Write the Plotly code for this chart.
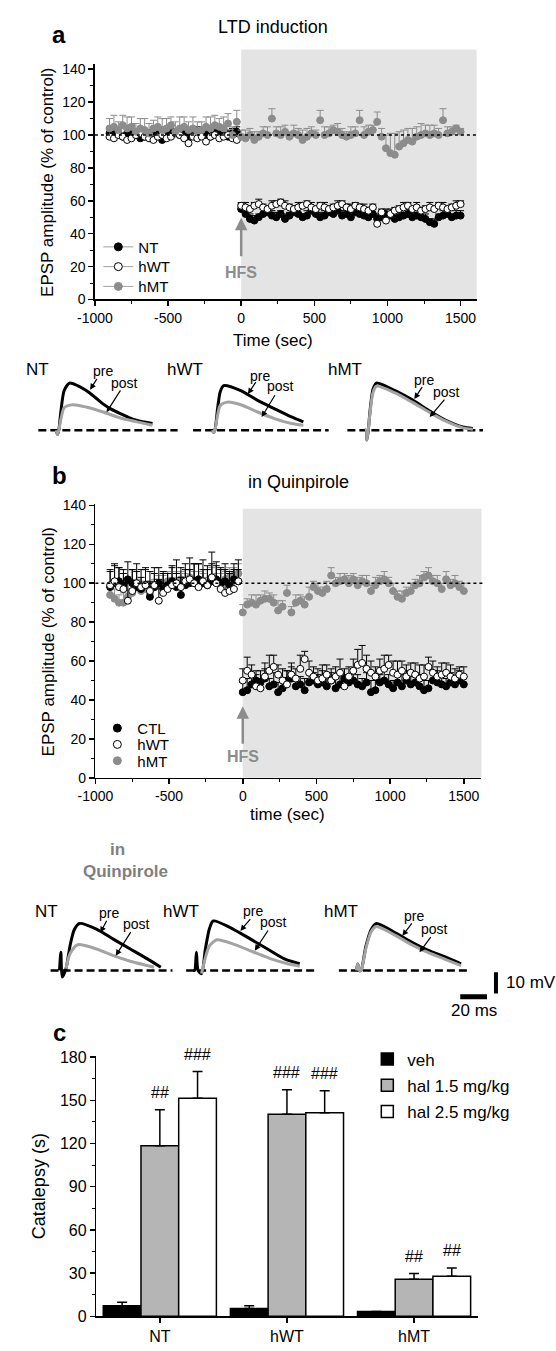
import plotly.graph_objects as go

W, H = 556, 1351
FONT = "Liberation Sans, Arial, Helvetica, sans-serif"
GRAY = "#8c8c8c"
LGRAY = "#a3a3a3"
SHADE = "#e4e4e4"

# ------------------------------------------------------------------ data
t_pre = list(range(-900, 0, 30))      # 30 samples before HFS (s)
t_post = list(range(0, 1501, 30))     # 51 samples after HFS (s)
time_s = t_pre + t_post

# panel a : LTD induction
nt_a = [101, 102, 100, 99, 101, 103, 100, 98, 99, 101, 102, 100, 97, 99, 101, 102, 100, 101, 99, 100,
        102, 101, 100, 99, 101, 102, 100, 99, 101, 102,
        55, 52, 49, 48, 50, 52, 53, 51, 50, 52, 49, 51, 53, 52, 50, 51, 54, 52, 50, 51,
        53, 52, 54, 51, 52, 50, 53, 52, 51, 50, 52, 49, 50, 52, 51, 49, 50, 51, 52, 50,
        51, 50, 49, 47, 46, 50, 51, 52, 50, 51, 51]
nt_a_err = [3, 2, 3, 2, 4, 3, 2, 3, 3, 2, 3, 4, 2, 3, 3, 2, 3, 2, 3, 4, 3, 2, 3, 3, 2, 4, 3, 2, 3, 3,
            3, 2, 3, 3, 2, 3, 2, 3, 3, 2, 3, 2, 3, 3, 2, 3, 3, 2, 3, 3, 2, 3, 4, 3, 2, 3, 3, 2, 3, 2,
            3, 3, 2, 3, 2, 3, 3, 2, 3, 3, 2, 3, 3, 2, 3, 2, 3, 3, 2, 3, 3]
hwt_a = [99, 98, 100, 99, 97, 98, 100, 101, 99, 98, 97, 99, 100, 98, 99, 101, 100, 98, 95, 99,
         98, 99, 96, 99, 100, 98, 99, 100, 98, 97,
         57, 56, 55, 57, 58, 56, 55, 57, 58, 59, 57, 56, 55, 56, 57, 58, 56, 55, 57, 56,
         55, 56, 57, 58, 56, 55, 57, 56, 55, 54, 56, 46, 53, 48, 52, 54, 55, 56, 57, 55,
         56, 54, 55, 56, 55, 57, 56, 55, 56, 57, 58]
hwt_a_err = [2, 3, 2, 2, 3, 2, 3, 2, 2, 3, 2, 3, 2, 2, 3, 2, 3, 2, 2, 3, 2, 2, 3, 2, 3, 2, 2, 3, 2, 2,
             2, 3, 2, 2, 3, 2, 2, 3, 2, 2, 3, 2, 2, 3, 2, 2, 3, 2, 2, 3, 2, 2, 3, 2, 2, 3, 2, 2, 3, 2,
             2, 3, 2, 2, 3, 2, 2, 3, 2, 2, 3, 2, 2, 3, 2, 2, 3, 2, 2, 3, 2]
hmt_a = [104, 105, 103, 106, 104, 105, 102, 104, 103, 101, 104, 105, 103, 104, 106, 102, 104, 105, 103, 104,
         102, 103, 105, 104, 106, 105, 104, 107, 100, 108,
         99, 98, 100, 97, 99, 101, 100, 110, 101, 100, 102, 99, 101, 100, 97, 99, 101, 100, 109, 100,
         101, 103, 102, 100, 99, 100, 101, 109, 100, 102, 103, 108, 99, 92, 89, 88, 93, 95, 97, 96,
         99, 100, 101, 100, 101, 100, 109, 101, 102, 104, 102]
hmt_a_err = [6, 7, 5, 6, 7, 6, 5, 6, 7, 6, 5, 6, 7, 6, 5, 6, 7, 6, 5, 7, 6, 5, 6, 7, 6, 5, 7, 6, 5, 7,
             4, 5, 4, 5, 3, 4, 5, 6, 4, 5, 4, 3, 5, 4, 6, 5, 4, 3, 6, 5, 4, 3, 5, 4, 3, 5, 4, 6, 5, 4,
             3, 6, 5, 8, 12, 13, 9, 8, 7, 8, 6, 7, 5, 6, 5, 4, 7, 4, 3, 2, 2]

# panel b : in quinpirole
ctl_b = [98, 100, 101, 99, 102, 100, 98, 97, 99, 93, 98, 100, 97, 99, 101, 98, 94, 99, 100, 101,
         102, 100, 99, 101, 102, 100, 101, 99, 102, 101,
         44, 45, 48, 50, 49, 51, 47, 48, 44, 46, 50, 51, 47, 48, 45, 49, 50, 48, 49, 47,
         50, 46, 48, 51, 49, 50, 48, 47, 49, 44, 45, 49, 50, 48, 46, 49, 47, 50, 48, 49,
         47, 45, 46, 50, 49, 48, 47, 49, 48, 50, 48]
ctl_b_err = [8, 9, 7, 8, 9, 7, 8, 6, 9, 8, 7, 8, 9, 6, 8, 7, 9, 8, 7, 9, 8, 7, 8, 9, 7, 8, 9, 7, 8, 6,
             5, 6, 4, 5, 6, 5, 4, 6, 5, 4, 5, 6, 5, 4, 6, 5, 4, 5, 6, 5, 4, 5, 6, 5, 4, 6, 5, 4, 5, 6,
             5, 4, 6, 5, 4, 5, 6, 5, 4, 5, 6, 5, 4, 5, 6, 5, 4, 5, 4, 5, 4]
hwt_b = [99, 101, 98, 97, 91, 96, 100, 98, 99, 96, 99, 91, 95, 97, 99, 100, 98, 101, 102, 100,
         98, 101, 99, 103, 100, 97, 95, 96, 97, 101,
         50, 55, 53, 47, 46, 52, 55, 57, 53, 50, 48, 53, 51, 56, 61, 54, 52, 50, 51, 53,
         50, 52, 54, 47, 52, 55, 58, 59, 56, 54, 52, 55, 56, 58, 54, 53, 55, 52, 54, 53,
         51, 52, 57, 54, 52, 53, 54, 52, 51, 53, 52]
hwt_b_err = [8, 9, 10, 8, 9, 11, 10, 9, 8, 10, 9, 11, 10, 8, 9, 12, 10, 9, 11, 10, 12, 11, 10, 13, 11, 10, 12, 9, 10, 11,
             6, 7, 5, 6, 5, 7, 8, 6, 5, 6, 7, 6, 5, 7, 4, 6, 5, 6, 7, 5, 6, 5, 7, 6, 5, 6, 8, 9, 7, 6,
             5, 6, 7, 5, 6, 7, 5, 6, 5, 6, 7, 6, 5, 6, 5, 6, 5, 6, 5, 4, 5]
hmt_b = [94, 92, 90, 90, 93, 95, 98, 96, 97, 95, 98, 99, 100, 101, 99, 101, 102, 100, 103, 101,
         102, 100, 99, 103, 101, 100, 102, 103, 104, 105,
         85, 89, 90, 89, 91, 92, 92, 90, 86, 88, 95, 85, 90, 91, 89, 93, 98, 96, 95, 97,
         104, 100, 101, 102, 100, 102, 99, 101, 100, 96, 99, 101, 102, 100, 96, 93, 92, 95, 96, 99,
         100, 103, 104, 101, 100, 97, 102, 99, 100, 98, 96]
hmt_b_err = [4, 5, 4, 5, 4, 5, 4, 5, 4, 5, 4, 5, 4, 5, 4, 5, 4, 5, 4, 5, 4, 5, 4, 5, 4, 5, 4, 5, 4, 5,
             4, 3, 4, 5, 3, 4, 3, 4, 5, 3, 4, 3, 4, 3, 4, 5, 3, 4, 3, 4, 4, 3, 4, 3, 4, 3, 4, 3, 4, 3,
             4, 3, 4, 3, 4, 3, 4, 3, 4, 3, 4, 3, 4, 3, 4, 3, 4, 3, 4, 3, 4]

# example EPSP traces (ms, mV) - row under panel a
nt_a_pre_t = [-1, 0, 1, 2.5, 5, 9, 15, 21.5, 28, 34, 40.5, 47, 53, 59.5, 66, 71]
nt_a_pre_mv = [0, -2, 0, 8.5, 18.5, 22, 20.8, 18.5, 15.4, 12.3, 9.7, 7.7, 6.0, 4.6, 3.7, 3.1]
nt_a_post_t = [-1, 0, 1, 2.5, 5, 11.4, 21.5, 34, 47, 59.5, 71]
nt_a_post_mv = [0, -2, 0, 5, 10.5, 11.9, 10.8, 8.5, 5.7, 3.9, 2.3]
hwt_a_pre_t = [-1, 0, 1, 3, 5, 7.6, 20.3, 32.9, 45.6, 58.2, 67.1]
hwt_a_pre_mv = [0, -1, 0, 10, 18, 20.8, 18.5, 13.9, 10, 6.2, 3.9]
hwt_a_post_t = [-1, 0, 1, 3, 5, 10.1, 20.3, 32.9, 45.6, 58.2, 67.1]
hwt_a_post_mv = [0, -1, 0, 7, 11.5, 13.1, 11.9, 8.5, 5.4, 3.1, 2.3]
hmt_a_t = [-1, 0, 0.5, 1.5, 3, 5, 7.6, 21.5, 34.2, 46.8, 59.5, 72.2, 79.7]
hmt_a_pre_mv = [0, 0, -4.6, 0, 10, 19, 22, 18.5, 14.3, 9.2, 4.6, 1.5, 0.8]
hmt_a_post_mv = [0, 0, -4.6, 0, 9, 17.5, 20.5, 17.4, 13.1, 8.5, 4.2, 1.1, 0.5]

# example EPSP traces - row under panel b (in quinpirole)
nt_b_pre_t = [-1, 0, 1, 3.8, 7, 10, 13.9, 26.6, 39.2, 51.9, 64.6, 74.7]
nt_b_pre_mv = [0, 8.5, -3.1, 0.8, 12, 19, 21.9, 19.3, 14.6, 10, 5.4, 1.5]
nt_b_post_t = [3.8, 7, 12.7, 26.6, 39.2, 51.9, 64.6, 69.6]
nt_b_post_mv = [0.8, 8, 12, 10, 6.9, 4.3, 2.3, 1.5]
hwt_b_pre_t = [-1, 0, 1.3, 2.5, 5.1, 8, 11, 13.9, 26.6, 41.8, 54.4, 67.1, 78.5]
hwt_b_pre_mv = [0, 0, 8.5, 0, -1.5, 10, 19.5, 23.1, 20, 14.6, 10, 5.4, 3.1]
hwt_b_post_t = [5.1, 8, 11, 16.5, 29.1, 44.3, 57, 69.6, 78.5]
hwt_b_post_mv = [-1.5, 6, 11.5, 14.3, 12.3, 8.5, 5.4, 3.1, 2]
hmt_b_t = [-1, 0, 1.3, 2.5, 6, 10, 13.9, 27.8, 40.5, 53.2, 65.8, 77.2]
hmt_b_pre_mv = [0, 3, 0, 0, 11, 19, 21.9, 17.7, 13.1, 9.2, 6.2, 3.1]
hmt_b_post_mv = [0, 3, 0, 0, 10, 18, 20.5, 16.5, 11.9, 8.2, 5.1, 2.3]

baseline_a = [(-14.3, 89.8), (-15.3, 86.0), (-14.1, 87.2)]
baseline_b = [(-7.7, 83.4), (-6.4, 91.0), (-14.1, 84.5)]
scale_mv, scale_ms = 10, 20

# panel c : catalepsy
groups = ["NT", "hWT", "hMT"]
veh = [7.3, 5.5, 3.4]
veh_err = [2.5, 1.8, 0]
hal15 = [118.5, 140.4, 25.8]
hal15_err = [25.0, 17.0, 3.9]
hal25 = [151.4, 141.4, 27.9]
hal25_err = [18.6, 15.3, 5.7]
sig15 = ["##", "###", "##"]
sig25 = ["###", "###", "##"]


# ------------------------------------------------------------------ helpers
def px(x):
    return x / W


def py(y):
    return 1 - y / H


fig = go.Figure()
layout = {}
annotations = []
shapes = []

tickfont = dict(family=FONT, size=14, color="black")


def main_axes(n, x0, x1, y0, y1, xr, yr):
    xa = "xaxis" if n == 1 else f"xaxis{n}"
    ya = "yaxis" if n == 1 else f"yaxis{n}"
    layout[xa] = dict(domain=[px(x0), px(x1)], range=xr, anchor=f"y{'' if n == 1 else n}",
                      showline=True, linecolor="black", linewidth=1.5, ticks="outside",
                      ticklen=5, tickwidth=1.5, tickcolor="black", showgrid=False, zeroline=False,
                      tickfont=tickfont, tickmode="array",
                      tickvals=[-1000, -500, 0, 500, 1000, 1500],
                      ticktext=["-1000", "-500", "0", "500", "1000", "1500"],
                      minor=dict(tickmode="linear", tick0=-1000, dtick=250, ticks="outside",
                                 ticklen=3, tickwidth=1, tickcolor="black", showgrid=False))
    layout[ya] = dict(domain=[py(y1), py(y0)], range=yr, anchor=f"x{'' if n == 1 else n}",
                      showline=True, linecolor="black", linewidth=1.5, ticks="outside",
                      ticklen=5, tickwidth=1.5, tickcolor="black", showgrid=False, zeroline=False,
                      tickfont=tickfont, tick0=0, dtick=20,
                      minor=dict(dtick=10, ticks="outside", ticklen=3, tickwidth=1,
                                 tickcolor="black", showgrid=False))


# panel a & b axes (pixel frames)
A = dict(x0=79.5, x1=474, y0=58, y1=296, xr=[-1000, 1610], yr=[0, 143])
B = dict(x0=80, x1=479, y0=503, y1=780, xr=[-1000, 1620], yr=[0, 140.7])
main_axes(1, A["x0"], A["x1"], A["y0"], A["y1"], A["xr"], A["yr"])
main_axes(2, B["x0"], B["x1"], B["y0"], B["y1"], B["xr"], B["yr"])


def xpix(frame, v):
    return frame["x0"] + (v - frame["xr"][0]) / (frame["xr"][1] - frame["xr"][0]) * (frame["x1"] - frame["x0"])


def ypix(frame, v):
    return frame["y1"] - (v - frame["yr"][0]) / (frame["yr"][1] - frame["yr"][0]) * (frame["y1"] - frame["y0"])


# shaded post-HFS regions
shapes.append(dict(type="rect", xref="paper", yref="paper", layer="below",
                   x0=px(xpix(A, 0)), x1=px(A["x1"]), y0=py(A["y1"]), y1=py(43),
                   fillcolor=SHADE, line=dict(width=0)))
shapes.append(dict(type="rect", xref="paper", yref="paper", layer="below",
                   x0=px(xpix(B, 0)), x1=px(B["x1"]), y0=py(B["y1"]), y1=py(507.7),
                   fillcolor=SHADE, line=dict(width=0)))
# 100 % reference lines
shapes.append(dict(type="line", xref="paper", yref="paper", layer="above",
                   x0=px(A["x0"]), x1=px(A["x1"]), y0=py(ypix(A, 100)), y1=py(ypix(A, 100)),
                   line=dict(color="black", width=1.5, dash="dot")))
shapes.append(dict(type="line", xref="paper", yref="paper", layer="above",
                   x0=px(B["x0"]), x1=px(483), y0=py(ypix(B, 100)), y1=py(ypix(B, 100)),
                   line=dict(color="black", width=1.5, dash="dot")))


def add_series(y, err, xa, ya, edge, fill, ecolor):
    fig.add_trace(go.Scatter(
        x=time_s, y=y, mode="markers", xaxis=xa, yaxis=ya,
        marker=dict(size=7, color=fill, line=dict(color=edge, width=1)),
        error_y=dict(type="data", symmetric=False, array=err, arrayminus=[0] * len(err),
                     color=ecolor, thickness=1, width=3.5),
        showlegend=False, hoverinfo="skip"))


add_series(nt_a, nt_a_err, "x", "y", "black", "black", "black")
add_series(hwt_a, hwt_a_err, "x", "y", "black", "white", "black")
add_series(hmt_a, hmt_a_err, "x", "y", GRAY, GRAY, GRAY)

add_series(hmt_b, hmt_b_err, "x2", "y2", GRAY, GRAY, GRAY)
add_series(ctl_b, ctl_b_err, "x2", "y2", "black", "black", "black")
add_series(hwt_b, hwt_b_err, "x2", "y2", "black", "white", "black")


# one legend box per entry so that each row sits where the reference puts it
def legend_box(name, xc, yc, size):
    layout[name] = dict(x=px(xc - 20), y=py(yc), xanchor="left", yanchor="middle",
                        bgcolor="rgba(0,0,0,0)", borderwidth=0,
                        font=dict(family=FONT, size=size, color="black"))


legend_rows_a = [("NT", "black", "black", 243), ("hWT", "white", "black", 263), ("hMT", GRAY, GRAY, 283)]
legend_rows_b = [("CTL", "black", "black", 730), ("hWT", "white", "black", 746.5), ("hMT", GRAY, GRAY, 763)]
lid = 1
for name, fill, edge, yc in legend_rows_a:
    lname = "legend" if lid == 1 else f"legend{lid}"
    legend_box(lname, 103, yc, 15)
    fig.add_trace(go.Scatter(x=[None], y=[None], mode="lines+markers", name=name, legend=lname,
                             xaxis="x", yaxis="y", line=dict(color="#a0a0a0", width=1),
                             marker=dict(size=8, color=fill, line=dict(color=edge, width=1))))
    lid += 1
for name, fill, edge, yc in legend_rows_b:
    lname = f"legend{lid}"
    legend_box(lname, 102, yc, 15)
    fig.add_trace(go.Scatter(x=[None], y=[None], mode="markers", name=name, legend=lname,
                             xaxis="x2", yaxis="y2",
                             marker=dict(size=8, color=fill, line=dict(color=edge, width=1))))
    lid += 1

# ------------------------------------------------------------------ EPSP traces
SX, SY = 1.383, 2.17          # px per ms, px per mV


def add_wave_axes(n, x0px, y0px, tr=(-16, 92), vr=(-6, 26)):
    layout[f"xaxis{n}"] = dict(domain=[px(x0px + tr[0] * SX), px(x0px + tr[1] * SX)], range=list(tr),
                               anchor=f"y{n}", visible=False)
    layout[f"yaxis{n}"] = dict(domain=[py(y0px - vr[0] * SY), py(y0px - vr[1] * SY)], range=list(vr),
                               anchor=f"x{n}", visible=False)


ROW_A_Y, ROW_B_Y = 428.3, 975.0
add_wave_axes(4, 40.8, ROW_A_Y)
add_wave_axes(5, 202.1, ROW_A_Y)
add_wave_axes(6, 359.9, ROW_A_Y)
add_wave_axes(7, 44.3, ROW_B_Y)
add_wave_axes(8, 182.6, ROW_B_Y)
add_wave_axes(9, 351.1, ROW_B_Y, tr=(-16, 108), vr=(-14, 26))

waves = [
    (4, nt_a_pre_t, nt_a_pre_mv, nt_a_post_t, nt_a_post_mv, baseline_a[0]),
    (5, hwt_a_pre_t, hwt_a_pre_mv, hwt_a_post_t, hwt_a_post_mv, baseline_a[1]),
    (6, hmt_a_t, hmt_a_pre_mv, hmt_a_t, hmt_a_post_mv, baseline_a[2]),
    (7, nt_b_pre_t, nt_b_pre_mv, nt_b_post_t, nt_b_post_mv, baseline_b[0]),
    (8, hwt_b_pre_t, hwt_b_pre_mv, hwt_b_post_t, hwt_b_post_mv, baseline_b[1]),
    (9, hmt_b_t, hmt_b_pre_mv, hmt_b_t, hmt_b_post_mv, baseline_b[2]),
]
for n, tpre, vpre, tpost, vpost, base in waves:
    fig.add_trace(go.Scatter(x=list(base), y=[0, 0], mode="lines", xaxis=f"x{n}", yaxis=f"y{n}",
                             line=dict(color="black", width=2.5, dash="8px,4px"),
                             showlegend=False, hoverinfo="skip"))
    fig.add_trace(go.Scatter(x=tpre, y=vpre, mode="lines", xaxis=f"x{n}", yaxis=f"y{n}",
                             line=dict(color="black", width=3, shape="spline", smoothing=0.7),
                             showlegend=False, hoverinfo="skip"))
    fig.add_trace(go.Scatter(x=tpost, y=vpost, mode="lines", xaxis=f"x{n}", yaxis=f"y{n}",
                             line=dict(color=LGRAY, width=3, shape="spline", smoothing=0.7),
                             showlegend=False, hoverinfo="skip"))

# scale bars (drawn in the hMT quinpirole trace frame)
SB_T, SB_V = 103.3, -0.8
fig.add_trace(go.Scatter(x=[SB_T, SB_T], y=[SB_V, SB_V - scale_mv], mode="lines", xaxis="x9", yaxis="y9",
                         line=dict(color="black", width=4), showlegend=False, hoverinfo="skip"))
fig.add_trace(go.Scatter(x=[SB_T - 26.7, SB_T - 26.7 + scale_ms], y=[-12.3, -12.3], mode="lines",
                         xaxis="x9", yaxis="y9", line=dict(color="black", width=5),
                         showlegend=False, hoverinfo="skip"))

# ------------------------------------------------------------------ panel c
C = dict(x0=80.9, x1=475, y0=1061.7, y1=1325)
layout["xaxis3"] = dict(domain=[px(C["x0"]), px(C["x1"])], range=[-0.5, 2.5], anchor="y3",
                        showline=True, linecolor="black", linewidth=1.5, ticks="outside", ticklen=5,
                        tickwidth=1.5, tickcolor="black", tickmode="array", tickvals=[0, 1, 2],
                        ticktext=groups, tickfont=dict(family=FONT, size=16, color="black"),
                        showgrid=False, zeroline=False)
layout["yaxis3"] = dict(domain=[py(C["y1"]), py(C["y0"])], range=[0, 180.7], anchor="x3",
                        showline=True, linecolor="black", linewidth=1.5, ticks="outside", ticklen=5,
                        tickwidth=1.5, tickcolor="black", tick0=0, dtick=30,
                        tickfont=dict(family=FONT, size=16, color="black"), showgrid=False, zeroline=False,
                        minor=dict(dtick=15, ticks="outside", ticklen=3, tickwidth=1, tickcolor="black",
                                   showgrid=False))
legend_rows_c = [1065, 1091.7, 1118.3]
for i, (name, vals, errs, color) in enumerate([("veh", veh, veh_err, "black"),
                                               ("hal 1.5 mg/kg", hal15, hal15_err, "#b5b5b5"),
                                               ("hal 2.5 mg/kg", hal25, hal25_err, "white")]):
    lname = f"legend{lid}"
    legend_box(lname, 381, legend_rows_c[i], 17)
    lid += 1
    fig.add_trace(go.Bar(x=[0, 1, 2], y=vals, name=name, xaxis="x3", yaxis="y3", legend=lname,
                         marker=dict(color=color, line=dict(color="black", width=1.5)),
                         error_y=dict(type="data", symmetric=False, array=errs, arrayminus=[0, 0, 0],
                                      color="black", thickness=1.5, width=5),
                         hoverinfo="skip"))
BARGAP = 0.11
bw = (1 - BARGAP) / 3
for k, (vals, errs, sig) in enumerate([(hal15, hal15_err, sig15), (hal25, hal25_err, sig25)]):
    for i in range(3):
        annotations.append(dict(x=i + k * bw, y=vals[i] + errs[i], xref="x3", yref="y3",
                                text=sig[i], showarrow=False, yshift=17, yanchor="middle",
                                font=dict(family=FONT, size=16, color="black")))


# ------------------------------------------------------------------ text
def txt(s, x, y, size=14, bold=False, color="black", angle=0, xanchor="center"):
    annotations.append(dict(text=f"<b>{s}</b>" if bold else s, x=px(x), y=py(y), xref="paper",
                            yref="paper", showarrow=False, xanchor=xanchor, yanchor="middle",
                            textangle=angle, font=dict(family=FONT, size=size, color=color)))


txt("a", 42.5, 27.5, 24, True)
txt("LTD induction", 264, 20, 18)
txt("b", 43, 474, 24, True)
txt("in Quinpirole", 290, 481, 18)
txt("c", 42.5, 1037.5, 24, True)
txt("EPSP amplitude (% of control)", 31, 177, 17, angle=-90)
txt("EPSP amplitude (% of control)", 31, 642, 17, angle=-90)
txt("Time (sec)", 264, 337, 17)
txt("time (sec)", 278, 817, 17)
txt("Catalepsy (s)", 22, 1193, 18, angle=-90)

# HFS arrows
for xa, ya, tip, tail_px, lab in [("x", "y", 49.7, 40, 16.6), ("x2", "y2", 36.7, 39, 11.0)]:
    annotations.append(dict(x=0, y=tip, xref=xa, yref=ya, ax=0, ay=tail_px, text="", showarrow=True,
                            arrowhead=2, arrowsize=1, arrowwidth=2.5, arrowcolor=GRAY))
    annotations.append(dict(x=0, y=lab, xref=xa, yref=ya, text="<b>HFS</b>", showarrow=False,
                            font=dict(family=FONT, size=16, color=GRAY)))

# trace labels
for s, x, y in [("NT", 20.4, 367), ("hWT", 173, 367), ("hMT", 338, 367),
                ("NT", 29, 915), ("hWT", 168.5, 915), ("hMT", 334, 915)]:
    txt(s, x, y, 17)
for s, x, y in [("pre", 87.6, 368), ("post", 110, 381), ("pre", 250, 373), ("post", 271, 384),
                ("pre", 420, 377), ("post", 443, 390),
                ("pre", 94, 916.7), ("post", 122.3, 928.3), ("pre", 243, 915), ("post", 264.2, 926),
                ("pre", 409.6, 920), ("post", 430.9, 933.3)]:
    txt(s, x, y, 14)
for x0, y0, x1, y1 in [(82.3, 375, 74.5, 387.3), (106.4, 386.7, 91.5, 410),
                       (246.5, 378.3, 237.6, 391.7), (266, 391.7, 251.8, 415),
                       (418.4, 383.3, 409.6, 396.7), (441.5, 396, 425.5, 415),
                       (92.2, 923.3, 85.1, 936.7), (117, 935, 101, 960),
                       (241, 921.7, 229.8, 935), (258.9, 933.3, 244.7, 955),
                       (407.8, 926, 397.2, 940), (427.3, 940, 414.9, 956.7)]:
    annotations.append(dict(x=px(x1), y=py(y1), xref="paper", yref="paper", ax=x0 - x1, ay=y0 - y1,
                            text="", showarrow=True, arrowhead=2, arrowsize=1, arrowwidth=1.2,
                            arrowcolor="black"))

txt("in", 103, 853, 17, True, "#7f7f7f")
txt("Quinpirole", 111, 875, 17, True, "#7f7f7f")
txt("10 mV", 502, 987, 17, xanchor="left")
txt("20 ms", 471, 1016, 17)

fig.update_layout(
    width=W, height=H, margin=dict(l=0, r=0, t=0, b=0),
    paper_bgcolor="white", plot_bgcolor="rgba(0,0,0,0)",
    font=dict(family=FONT, size=14, color="black"),
    barmode="group", bargap=BARGAP, bargroupgap=0,
    shapes=shapes, annotations=annotations,
    **layout,
)

fig.write_html("out.html",
               config={"displayModeBar": False, "staticPlot": True},
               post_script="document.body.style.margin='0px';document.body.style.padding='0px';"
                           "document.documentElement.style.overflow='hidden';")
